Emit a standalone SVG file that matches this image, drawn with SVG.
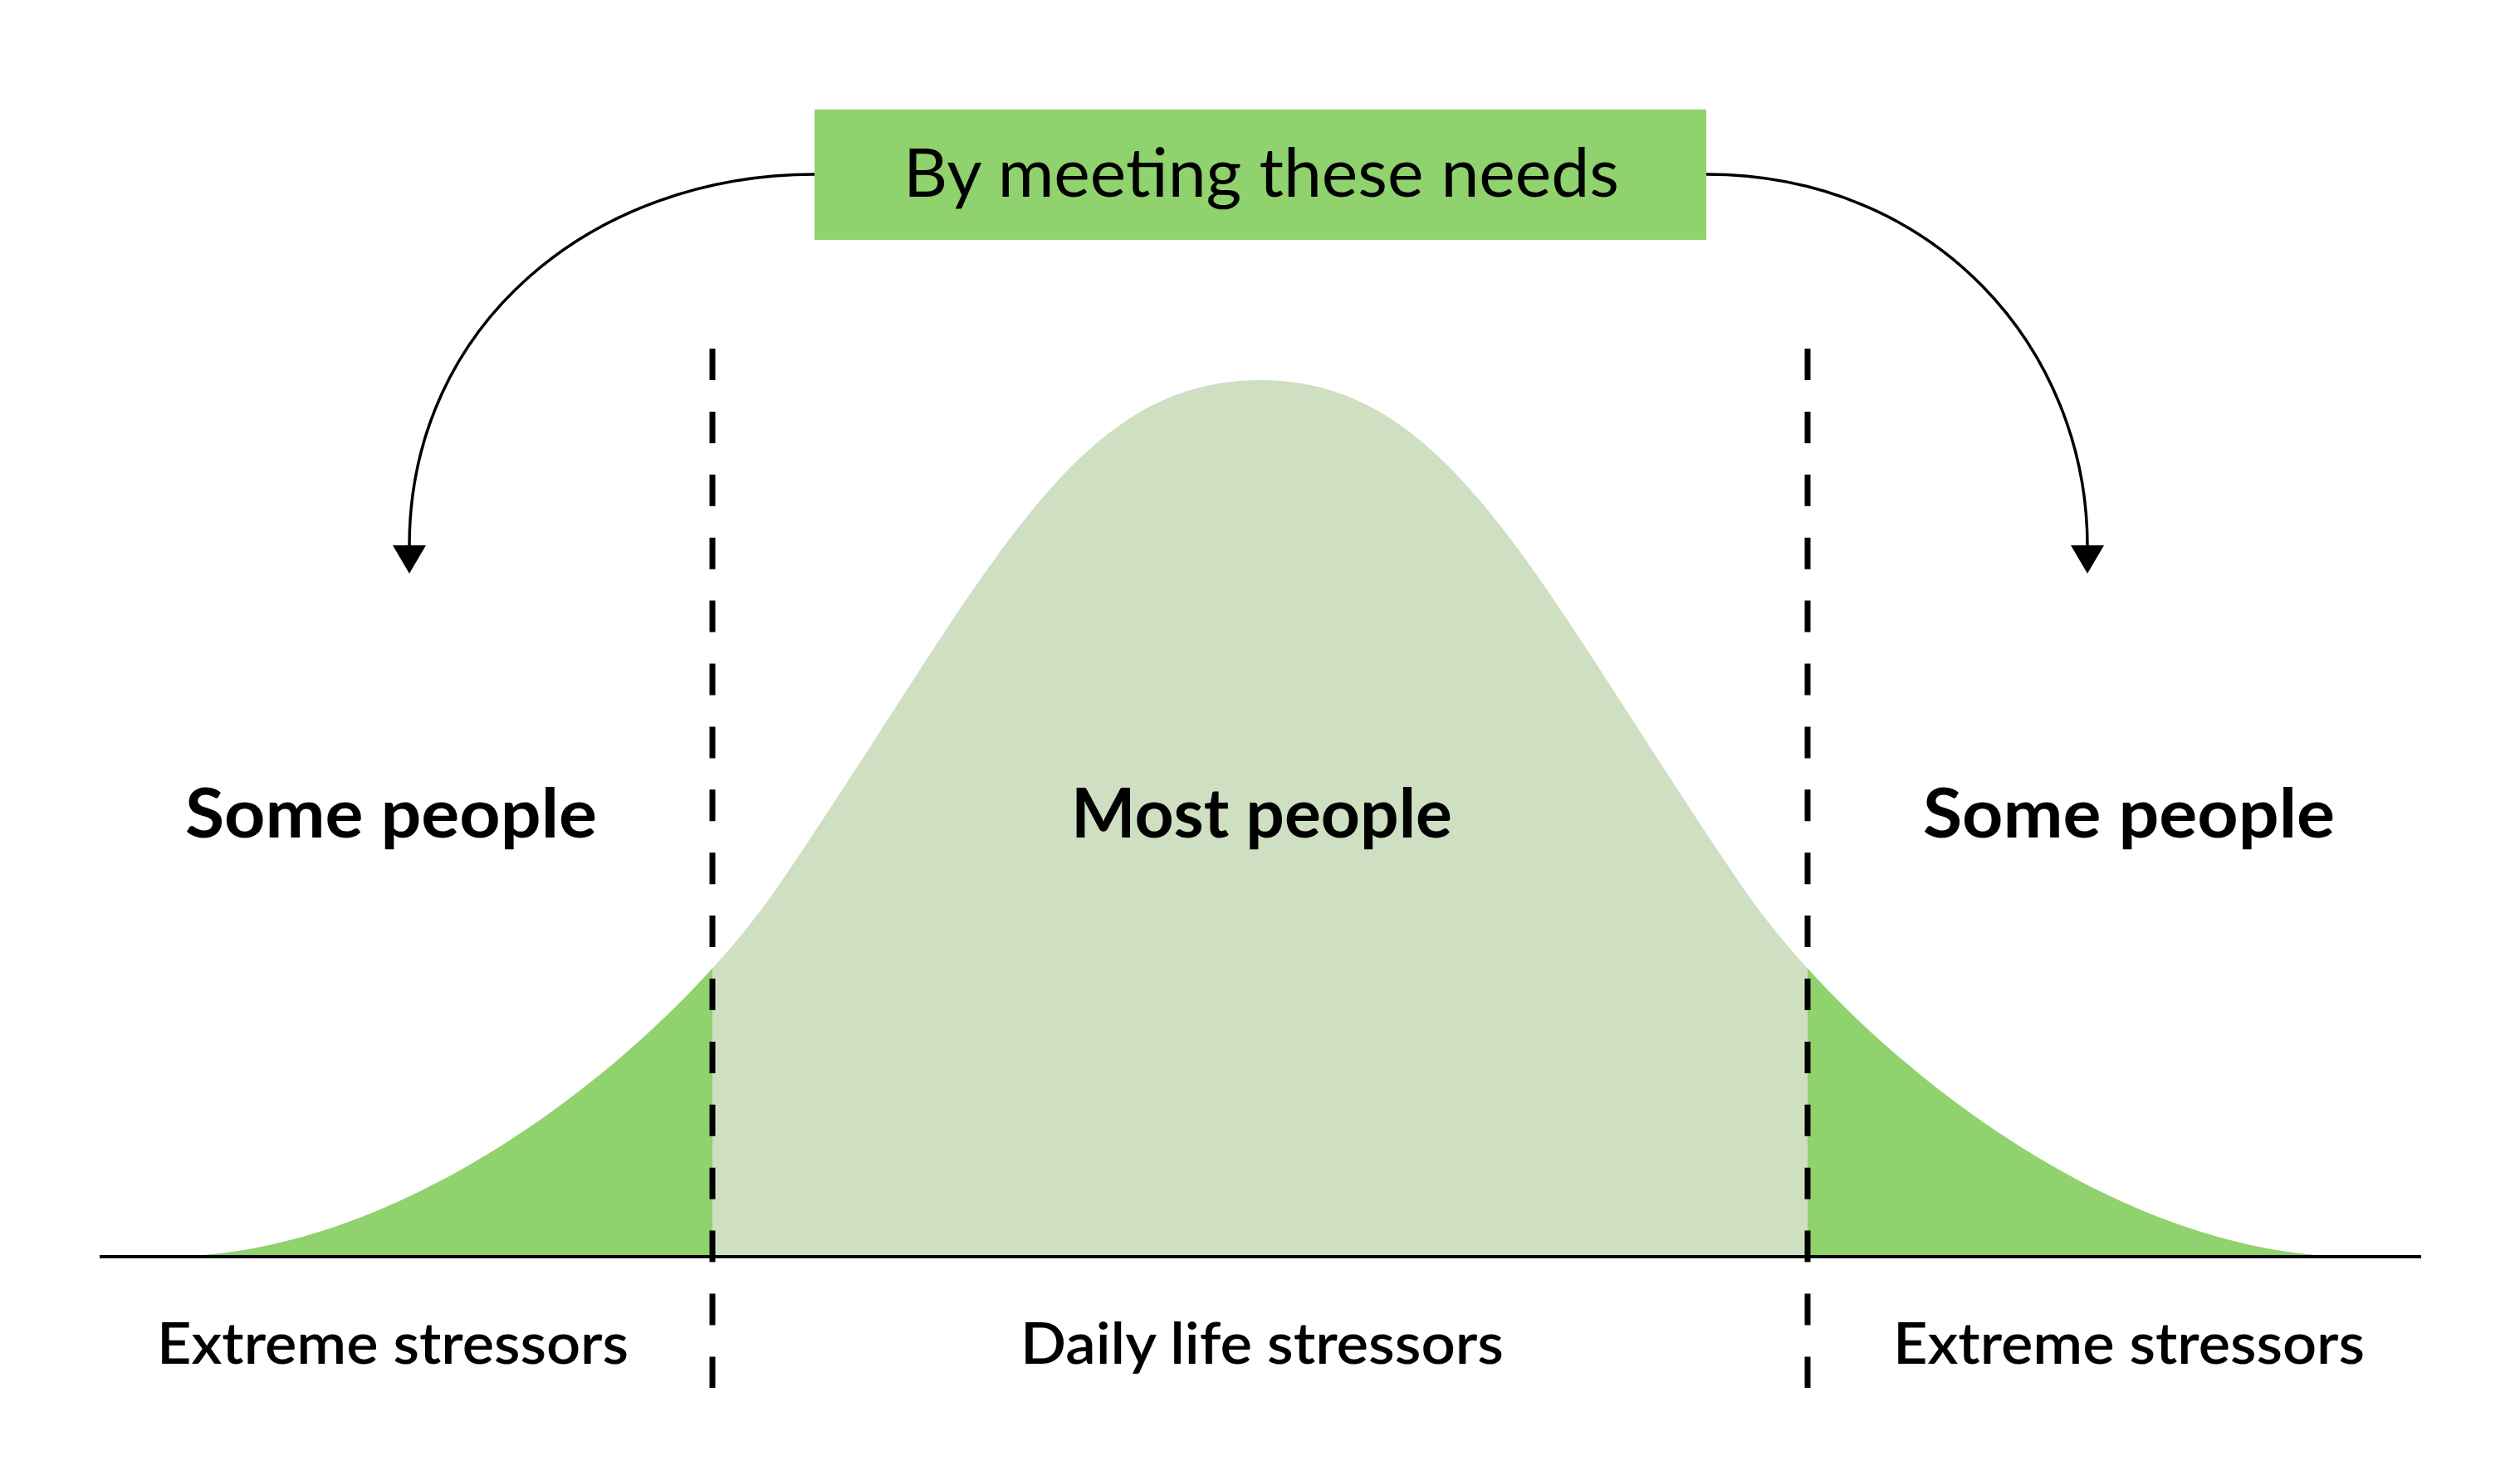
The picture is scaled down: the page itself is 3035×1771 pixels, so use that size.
<svg xmlns="http://www.w3.org/2000/svg" width="3035" height="1771" viewBox="0 0 3035 1771">
  <style>
    .lbl { font-family: Lato, "Noto Sans", "Liberation Sans", sans-serif; fill: #000; text-anchor: middle; }
    .big { font-size: 81.6px; font-weight: 700; }
    .small { font-size: 69.4px; font-weight: 600; }
    .title { font-size: 80.5px; font-weight: 400; }
    .conn { fill: none; stroke: #000; stroke-width: 3.5; }
    .dash { stroke: #000; stroke-width: 7; stroke-dasharray: 38 37.9; }
  </style>
  <defs>
    <marker id="arrow" markerUnits="userSpaceOnUse" markerWidth="34" markerHeight="40" viewBox="0 0 34 40" refX="1" refY="20" orient="auto">
      <path d="M0,0 L34,20 L0,40 Z" fill="#000"/>
    </marker>
    <path id="bellPath" d="M200,1514 C500,1514 809,1256 939,1065 C1189,697.5 1287.5,458 1517.5,458 C1747.5,458 1846,697.5 2096,1065 C2226,1256 2535,1514 2835,1514 Z"/>
    <clipPath id="leftTail"><rect x="0" y="0" width="858" height="1771"/></clipPath>
    <clipPath id="rightTail"><rect x="2177" y="0" width="858" height="1771"/></clipPath>
  </defs>
  <rect x="0" y="0" width="3035" height="1771" fill="#fff"/>

  <g id="bell-curve">
    <use href="#bellPath" fill="#cedfc2"/>
    <use href="#bellPath" fill="#90d26d" clip-path="url(#leftTail)"/>
    <use href="#bellPath" fill="#90d26d" clip-path="url(#rightTail)"/>
  </g>

  <g id="axis">
    <line x1="120" y1="1514" x2="2916" y2="1514" stroke="#000" stroke-width="4"/>
  </g>

  <g id="dividers">
    <line class="dash" x1="858" y1="420" x2="858" y2="1672"/>
    <line class="dash" x1="2177" y1="420" x2="2177" y2="1672"/>
  </g>

  <g id="node-needs">
    <rect x="981" y="132" width="1074" height="157" fill="#90d26d"/>
    <text class="lbl title" x="1519" y="237" textLength="862" lengthAdjust="spacingAndGlyphs">By meeting these needs</text>
  </g>

  <g id="connectors">
    <path class="conn" d="M981,210 C715,210 493,390 493,658" marker-end="url(#arrow)"/>
    <path class="conn" d="M2055,210 C2330,210 2514,420 2514,658" marker-end="url(#arrow)"/>
  </g>

  <g id="label-some-left">
    <text class="lbl big" x="471" y="1009" textLength="496" lengthAdjust="spacingAndGlyphs">Some people</text>
  </g>
  <g id="label-most">
    <text class="lbl big" x="1519.5" y="1009" textLength="459" lengthAdjust="spacingAndGlyphs">Most people</text>
  </g>
  <g id="label-some-right">
    <text class="lbl big" x="2564" y="1009" textLength="496" lengthAdjust="spacingAndGlyphs">Some people</text>
  </g>

  <g id="label-extreme-left">
    <text class="lbl small" x="473" y="1643" textLength="568" lengthAdjust="spacingAndGlyphs">Extreme stressors</text>
  </g>
  <g id="label-daily">
    <text class="lbl small" x="1520" y="1643" textLength="582" lengthAdjust="spacingAndGlyphs">Daily life stressors</text>
  </g>
  <g id="label-extreme-right">
    <text class="lbl small" x="2564" y="1643" textLength="568" lengthAdjust="spacingAndGlyphs">Extreme stressors</text>
  </g>
</svg>
